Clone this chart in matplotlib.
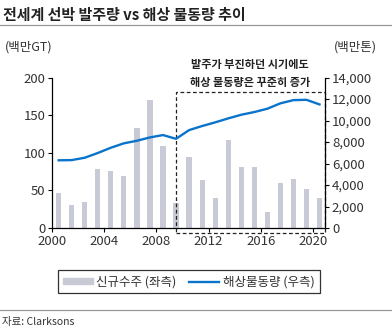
import matplotlib
matplotlib.use("Agg")
import matplotlib.pyplot as plt
import matplotlib.ticker as mticker
from matplotlib.patches import Rectangle
from matplotlib.lines import Line2D
import numpy as np

plt.rcParams["font.family"] = ["Noto Sans CJK KR", "DejaVu Sans"]

# data
years = np.arange(2000, 2021)
new_orders = [46, 30.5, 34.5, 78, 75.5, 68.5, 133, 170.5, 109.5, 33, 94,
              63.5, 40.5, 116.5, 81, 81, 21.5, 59.5, 65.5, 52, 39.5]
seaborne_trade = [6300, 6320, 6540, 6980, 7470, 7880, 8120, 8430, 8650, 8300, 9110,
                  9490, 9830, 10200, 10540, 10790, 11100, 11600, 11900, 11930, 11500]
x_ticks = [2000, 2004, 2008, 2012, 2016, 2020]

bar_color = "#c8cad6"
line_color = "#0a74cc"
text_color = "#333333"

fig = plt.figure(figsize=(3.92, 3.30), dpi=100)
ax = fig.add_axes([0.133, 0.309, 0.696, 0.456])
ax2 = ax.twinx()

xpos = years + 0.5
ax.bar(xpos, new_orders, width=0.4, color=bar_color, zorder=2)
ax2.plot(xpos, seaborne_trade, color=line_color, linewidth=1.7, zorder=3)

ax.set_xlim(2000, 2020.92)
ax.set_ylim(0, 200)
ax2.set_ylim(0, 14000)
ax.set_xticks(x_ticks)
ax.set_yticks(range(0, 201, 50))
ax2.set_yticks(range(0, 14001, 2000))
ax2.yaxis.set_major_formatter(mticker.StrMethodFormatter("{x:,.0f}"))

for a in (ax, ax2):
    a.spines["top"].set_visible(False)
    a.tick_params(labelsize=9.5, labelcolor=text_color, length=3, width=0.8, pad=2)
ax2.spines["left"].set_visible(False)
ax2.spines["bottom"].set_visible(False)
ax.spines["right"].set_visible(False)
for s in ("left", "bottom"):
    ax.spines[s].set_linewidth(0.9)
ax2.spines["right"].set_linewidth(0.9)

# dashed highlight box
box = Rectangle((2009.47, -6.6), 2020.92 - 2009.47, 180.8 + 6.6, fill=False,
                edgecolor="#222222", linestyle=(0, (3, 2)), linewidth=0.9,
                clip_on=False, zorder=4)
ax.add_patch(box)
ax.text(2015.2, 205, "발주가 부진하던 시기에도\n해상 물동량은 꾸준히 증가", ha="center",
        va="center", fontsize=8, fontweight="bold", color="#222222",
        linespacing=1.5)

# title, unit labels and rules
fig.text(0.008, 0.956, "전세계 선박 발주량 vs 해상 물동량 추이", fontsize=10.8,
         fontweight="bold", color="#222222", va="center", ha="left")
fig.add_artist(Line2D([0, 1], [0.924, 0.924], color="#999999", linewidth=0.9))
fig.text(0.012, 0.858, "(백만GT)", fontsize=9, color=text_color, va="center")
fig.text(0.962, 0.858, "(백만톤)", fontsize=9, color=text_color, va="center",
         ha="right")
fig.add_artist(Line2D([0, 1], [0.062, 0.062], color="#999999", linewidth=0.9))
fig.text(0.005, 0.025, "자료: Clarksons", fontsize=7.5, color=text_color, va="center")

handles = [Rectangle((0, 0), 1, 1, color=bar_color),
           Line2D([], [], color=line_color, linewidth=1.7)]
leg = fig.legend(handles, ["신규수주 (좌측)", "해상물동량 (우측)"], ncol=2,
                 loc="center", bbox_to_anchor=(0.481, 0.146), fontsize=9,
                 frameon=True, fancybox=False, edgecolor="black",
                 handlelength=2.4, handleheight=0.4, handletextpad=0.3,
                 columnspacing=1.0, borderpad=0.4, borderaxespad=0)
leg.get_frame().set_linewidth(0.9)
for t in leg.get_texts():
    t.set_color(text_color)

fig.savefig("out.png", dpi=100)
